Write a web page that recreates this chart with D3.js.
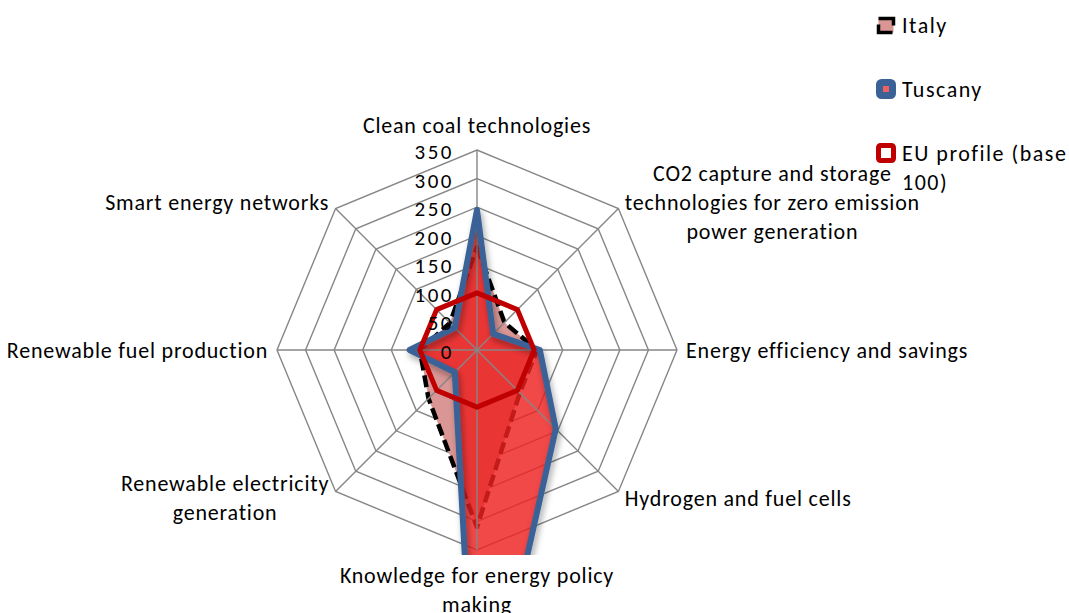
<!DOCTYPE html>
<html>
<head>
<meta charset="utf-8">
<script src="https://cdn.jsdelivr.net/npm/d3@7"></script>
<style>
  html, body { margin: 0; padding: 0; background: #ffffff; }
  svg { display: block; }
  text { font-family: Carlito, Calibri, Lato, sans-serif; fill: #000; }
</style>
</head>
<body>
<svg id="chart" width="1069" height="613"></svg>
<script>
// ---- data ----
const categories = [
  "Clean coal technologies",
  "CO2 capture and storage technologies for zero emission power generation",
  "Energy efficiency and savings",
  "Hydrogen and fuel cells",
  "Knowledge for energy policy making",
  "Renewable electricity generation",
  "Renewable fuel production",
  "Smart energy networks"
];
const categoryLines = [
  ["Clean coal technologies"],
  ["CO2 capture and storage", "technologies for zero emission", "power generation"],
  ["Energy efficiency and savings"],
  ["Hydrogen and fuel cells"],
  ["Knowledge for energy policy", "making"],
  ["Renewable electricity", "generation"],
  ["Renewable fuel production"],
  ["Smart energy networks"]
];
const italy     = [180, 68, 105, 106, 310, 120, 100, 67];
const tuscany   = [245, 40, 110, 195, 750, 55, 118, 55];
const euProfile = [100, 100, 100, 100, 100, 100, 100, 100];
const tickValues = [0, 50, 100, 150, 200, 250, 300, 350];
const seriesNames = ["Italy", "Tuscany", "EU profile (base 100)"];
const legendLines = [["Italy"], ["Tuscany"], ["EU profile (base", "100)"]];

// ---- layout ----
const svg = d3.select("#chart");
const W = 1069, H = 613;
const cx = 477, cy = 350, R = 200;
const rScale = d3.scaleLinear().domain([0, 350]).range([0, R]);
const step = 2 * Math.PI / categories.length;
const gridColor = "#868686";

const defs = svg.append("defs");
defs.append("clipPath").attr("id", "plotClip")
  .append("rect").attr("x", -cx).attr("y", -cy).attr("width", W).attr("height", cy + R + 5);
const sh = defs.append("filter").attr("id", "shadow")
  .attr("x", "-20%").attr("y", "-20%").attr("width", "140%").attr("height", "140%");
sh.append("feDropShadow").attr("dx", 2).attr("dy", 4).attr("stdDeviation", 3)
  .attr("flood-color", "#000").attr("flood-opacity", 0.35);

const g = svg.append("g").attr("transform", `translate(${cx},${cy})`);

const radial = d3.lineRadial()
  .angle((d, i) => i * step)
  .radius(d => rScale(d))
  .curve(d3.curveLinearClosed);

// rings
g.append("g").selectAll("path")
  .data(tickValues.filter(t => t > 0))
  .join("path")
  .attr("d", t => radial(categories.map(() => t)))
  .attr("fill", "none").attr("stroke", gridColor).attr("stroke-width", 1.4);

const series = g.append("g").attr("clip-path", "url(#plotClip)");

// Italy
series.append("path").attr("d", radial(italy))
  .attr("fill", "#D99694").attr("stroke", "none");
series.append("path").attr("d", radial(italy))
  .attr("fill", "none").attr("stroke", "#000").attr("stroke-width", 4.5)
  .attr("stroke-dasharray", "12,5").attr("stroke-linejoin", "round");

// Tuscany fill
series.append("path").attr("d", radial(tuscany))
  .attr("fill", "rgb(238,32,32)").attr("fill-opacity", 0.82).attr("stroke", "none");

// spokes
g.append("g").selectAll("line")
  .data(categories)
  .join("line")
  .attr("x1", 0).attr("y1", 0)
  .attr("x2", (d, i) => rScale(350) * Math.sin(i * step))
  .attr("y2", (d, i) => -rScale(350) * Math.cos(i * step))
  .attr("stroke", gridColor).attr("stroke-width", 1.4);

const series2 = g.append("g").attr("clip-path", "url(#plotClip)");
// Tuscany stroke
series2.append("path").attr("d", radial(tuscany))
  .attr("fill", "none").attr("stroke", "#3B6296").attr("stroke-width", 6)
  .attr("stroke-linejoin", "round").attr("filter", "url(#shadow)");
// EU profile
series2.append("path").attr("d", radial(euProfile))
  .attr("fill", "none").attr("stroke", "#C00000").attr("stroke-width", 5)
  .attr("stroke-linejoin", "round");

// tick labels
g.append("g").selectAll("text")
  .data(tickValues)
  .join("text")
  .attr("x", -23)
  .attr("y", t => -rScale(t) + 9)
  .attr("text-anchor", "end")
  .attr("font-size", 21)
  .attr("letter-spacing", "2.5px")
  .text(t => t);

// category labels
const lineH = 29, pad = 9, capHalf = 7.8;
categoryLines.forEach((lines, i) => {
  const a = i * step, s = Math.sin(a), c = Math.cos(a);
  const px = (R + pad) * s, py = -(R + pad) * c;
  const blockH = lines.length * lineH;
  let top;
  if (Math.abs(s) < 0.1) {
    top = c > 0 ? py - blockH - 1 : py + 2;
  } else {
    top = py - blockH / 2;
  }
  const grp = g.append("g");
  const texts = grp.selectAll("text").data(lines).join("text")
    .attr("y", (d, k) => top + k * lineH + lineH / 2 + capHalf)
    .attr("font-size", 22)
    .attr("letter-spacing", "0.8px")
    .attr("text-anchor", "middle")
    .text(d => d);
  const wmax = d3.max(texts.nodes(), n => n.getComputedTextLength());
  let centerX;
  if (s > 0.1) centerX = px + wmax / 2;
  else if (s < -0.1) centerX = px - wmax / 2;
  else centerX = px;
  texts.attr("x", centerX);
});

// legend
const lg = svg.append("g");
const legendY = [25, 89, 153];
// Italy marker
lg.append("rect").attr("x", 878.5).attr("y", 18.5).attr("width", 15).attr("height", 14)
  .attr("fill", "#D99694").attr("stroke", "#000").attr("stroke-width", 3.5)
  .attr("stroke-dasharray", "22,8");
// Tuscany marker
lg.append("rect").attr("x", 879.5).attr("y", 82.5).attr("width", 13).attr("height", 13)
  .attr("rx", 2).attr("fill", "#F06060").attr("stroke", "#3B6296").attr("stroke-width", 7);
// EU marker
lg.append("rect").attr("x", 878.5).attr("y", 145.5).attr("width", 15).attr("height", 15)
  .attr("rx", 2).attr("fill", "#fff").attr("stroke", "#C00000").attr("stroke-width", 5);

legendLines.forEach((lines, i) => {
  lg.append("g").selectAll("text").data(lines).join("text")
    .attr("x", 902)
    .attr("y", (d, k) => legendY[i] + capHalf + k * lineH)
    .attr("font-size", 22)
    .attr("letter-spacing", "1.5px")
    .text(d => d);
});
</script>
</body>
</html>
